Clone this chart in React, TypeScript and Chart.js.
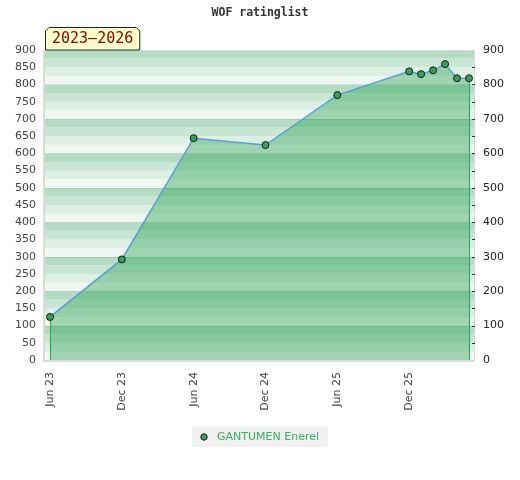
import React, { useEffect, useRef } from "react";
import { Chart, registerables } from "chart.js";

Chart.register(...registerables);

const TITLE = "WOF ratinglist";
const PERIOD = "2023–2026";
const SERIES_LABEL = "GANTUMEN Enerel";
// months counted from Jun 2023
const MONTH_INDEX = [0, 6, 12, 18, 24, 30, 31, 32, 33, 34, 35];
const RATINGS = [125, 292, 644, 624, 769, 838, 830, 841, 859, 818, 818];
const X_TICK_VALUES = [0, 6, 12, 18, 24, 30];
const X_TICK_LABELS = ["Jun 23", "Dec 23", "Jun 24", "Dec 24", "Jun 25", "Dec 25"];
const Y_MIN = 0;
const Y_MAX = 900;

const STRIPES = ["#eef7f1", "#dcefe3", "#c8e6d3", "#b3dcc3"];

const stripePlugin = {
  id: "stripes",
  beforeDraw(chart: any) {
    const { ctx, chartArea } = chart;
    const y = chart.scales.y;
    const { left, right } = chartArea;
    ctx.save();
    for (let v = y.min; v < y.max; v += 25) {
      const k = Math.round((v % 100) / 25);
      const y1 = y.getPixelForValue(v + 25);
      const y0 = y.getPixelForValue(v);
      ctx.fillStyle = STRIPES[k];
      ctx.fillRect(left, y1, right - left, y0 - y1);
    }
    ctx.strokeStyle = "rgba(0,0,0,0.07)";
    ctx.lineWidth = 1;
    for (let v = y.min + 100; v < y.max; v += 100) {
      const py = Math.round(y.getPixelForValue(v)) + 0.5;
      ctx.beginPath();
      ctx.moveTo(left, py);
      ctx.lineTo(right, py);
      ctx.stroke();
    }
    ctx.restore();
  },
};

const edgePlugin = {
  id: "edges",
  beforeDatasetDraw(chart: any, args: any) {
    const meta = args.meta;
    const pts = meta.data;
    if (!pts.length) return;
    const { ctx, chartArea } = chart;
    ctx.save();
    ctx.strokeStyle = "#3aaa5a";
    ctx.lineWidth = 1.2;
    [pts[0], pts[pts.length - 1]].forEach((p: any) => {
      const px = Math.round(p.x) + 0.5;
      ctx.beginPath();
      ctx.moveTo(px, p.y);
      ctx.lineTo(px, chartArea.bottom);
      ctx.stroke();
    });
    ctx.restore();
  },
};

const frameAndDecorPlugin = {
  id: "decor",
  afterDraw(chart: any) {
    const { ctx, chartArea, width } = chart;
    const { left, right, top, bottom } = chartArea;
    const y2 = chart.scales.y2;
    ctx.save();
    // frame
    ctx.strokeStyle = "#dadada";
    ctx.lineWidth = 1;
    ctx.beginPath();
    ctx.moveTo(left - 0.5, top + 0.5);
    ctx.lineTo(right - 0.5, top + 0.5);
    ctx.lineTo(right - 0.5, bottom);
    ctx.stroke();
    ctx.lineWidth = 2;
    ctx.beginPath();
    ctx.moveTo(left - 1, top);
    ctx.lineTo(left - 1, bottom + 1);
    ctx.lineTo(right, bottom + 1);
    ctx.stroke();

    // right axis tick dashes (inside)
    ctx.strokeStyle = "#333";
    ctx.lineWidth = 1;
    for (let v = 50; v < Y_MAX; v += 50) {
      const py = Math.round(y2.getPixelForValue(v)) + 0.5;
      ctx.beginPath();
      ctx.moveTo(right - 3, py);
      ctx.lineTo(right, py);
      ctx.stroke();
    }

    // title
    ctx.fillStyle = "#333";
    ctx.font = "bold 11.5px 'DejaVu Sans Mono'";
    ctx.textAlign = "center";
    ctx.textBaseline = "middle";
    ctx.fillText(TITLE, width / 2, 13);

    // period label
    ctx.font = "15px 'DejaVu Sans Mono'";
    const tw = ctx.measureText(PERIOD).width;
    const bx = left;
    const bw = tw + 14;
    const by = top - 23;
    const bh = 23;
    const c = 4;
    ctx.beginPath();
    ctx.moveTo(bx + 0.5, top);
    ctx.lineTo(bx + 0.5, by + c);
    ctx.lineTo(bx + c, by + 0.5);
    ctx.lineTo(bx + bw - c, by + 0.5);
    ctx.lineTo(bx + bw - 0.5, by + c);
    ctx.lineTo(bx + bw - 0.5, top);
    ctx.closePath();
    ctx.fillStyle = "#ffffcc";
    ctx.fill();
    ctx.strokeStyle = "#222";
    ctx.lineWidth = 1;
    ctx.stroke();
    ctx.fillStyle = "#8b0000";
    ctx.textAlign = "left";
    ctx.textBaseline = "middle";
    ctx.fillText(PERIOD, bx + 7, by + bh / 2 + 1);

    // legend
    const ds = chart.data.datasets[0];
    ctx.font = "11px 'DejaVu Sans'";
    const lw = ctx.measureText(ds.label).width;
    const boxW = lw + 34;
    const boxX = Math.round(width / 2 - boxW / 2);
    const boxY = 427;
    const boxH = 20;
    ctx.fillStyle = "#f0f0f0";
    ctx.fillRect(boxX, boxY, boxW, boxH);
    ctx.beginPath();
    ctx.arc(boxX + 12, boxY + boxH / 2, 3.2, 0, Math.PI * 2);
    ctx.fillStyle = ds.pointBackgroundColor;
    ctx.fill();
    ctx.strokeStyle = ds.pointBorderColor;
    ctx.lineWidth = 1;
    ctx.stroke();
    ctx.fillStyle = "#3cae62";
    ctx.textAlign = "left";
    ctx.textBaseline = "middle";
    ctx.fillText(ds.label, boxX + 25, boxY + boxH / 2 + 0.5);
    ctx.restore();
  },
};

export default function App() {
  const ref = useRef<HTMLCanvasElement | null>(null);

  useEffect(() => {
    document.body.style.margin = "0";
    const canvas = ref.current;
    if (!canvas) return;
    const chart = new Chart(canvas, {
      type: "line",
      data: {
        datasets: [
          {
            label: SERIES_LABEL,
            data: MONTH_INDEX.map((x, i) => ({ x, y: RATINGS[i] })),
            borderColor: "#5b9fd6",
            borderWidth: 1.5,
            backgroundColor: "rgba(38,160,80,0.4)",
            fill: "origin",
            tension: 0,
            pointRadius: 3.5,
            pointBackgroundColor: "#3a9d5d",
            pointBorderColor: "#1a1a1a",
            pointBorderWidth: 1,
            yAxisID: "y",
          },
        ],
      },
      options: {
        responsive: false,
        animation: false,
        layout: { padding: { top: 50, bottom: 60, left: 0, right: 0 } },
        plugins: {
          legend: { display: false },
          title: { display: false },
          tooltip: { enabled: false },
        },
        scales: {
          x: {
            type: "linear",
            min: -0.42,
            max: 35.5,
            afterBuildTicks: (s: any) => {
              s.ticks = X_TICK_VALUES.map((v) => ({ value: v }));
            },
            afterFit: (s: any) => {
              s.height = 60;
            },
            grid: { display: false, drawTicks: false },
            border: { display: false },
            ticks: {
              autoSkip: false,
              minRotation: 90,
              maxRotation: 90,
              padding: 12,
              color: "#444",
              font: { family: "DejaVu Sans", size: 11 },
              callback: (v: any) => {
                const i = X_TICK_VALUES.indexOf(Number(v));
                return i >= 0 ? X_TICK_LABELS[i] : "";
              },
            },
          },
          y: {
            position: "left",
            min: Y_MIN,
            max: Y_MAX,
            afterFit: (s: any) => {
              s.width = 45;
            },
            grid: { display: false, drawTicks: false },
            border: { display: false },
            ticks: {
              stepSize: 50,
              autoSkip: false,
              padding: 9,
              color: "#444",
              font: { family: "DejaVu Sans", size: 11 },
            },
          },
          y2: {
            position: "right",
            min: Y_MIN,
            max: Y_MAX,
            afterFit: (s: any) => {
              s.width = 45;
            },
            grid: { display: false, drawTicks: false },
            border: { display: false },
            ticks: {
              stepSize: 100,
              autoSkip: false,
              padding: 8,
              color: "#222",
              font: { family: "DejaVu Sans", size: 11 },
            },
          },
        },
      } as any,
      plugins: [stripePlugin, edgePlugin, frameAndDecorPlugin],
    });
    return () => chart.destroy();
  }, []);

  return (
    <div style={{ width: 520, height: 480 }}>
      <canvas ref={ref} width={520} height={480} style={{ display: "block" }} />
    </div>
  );
}
